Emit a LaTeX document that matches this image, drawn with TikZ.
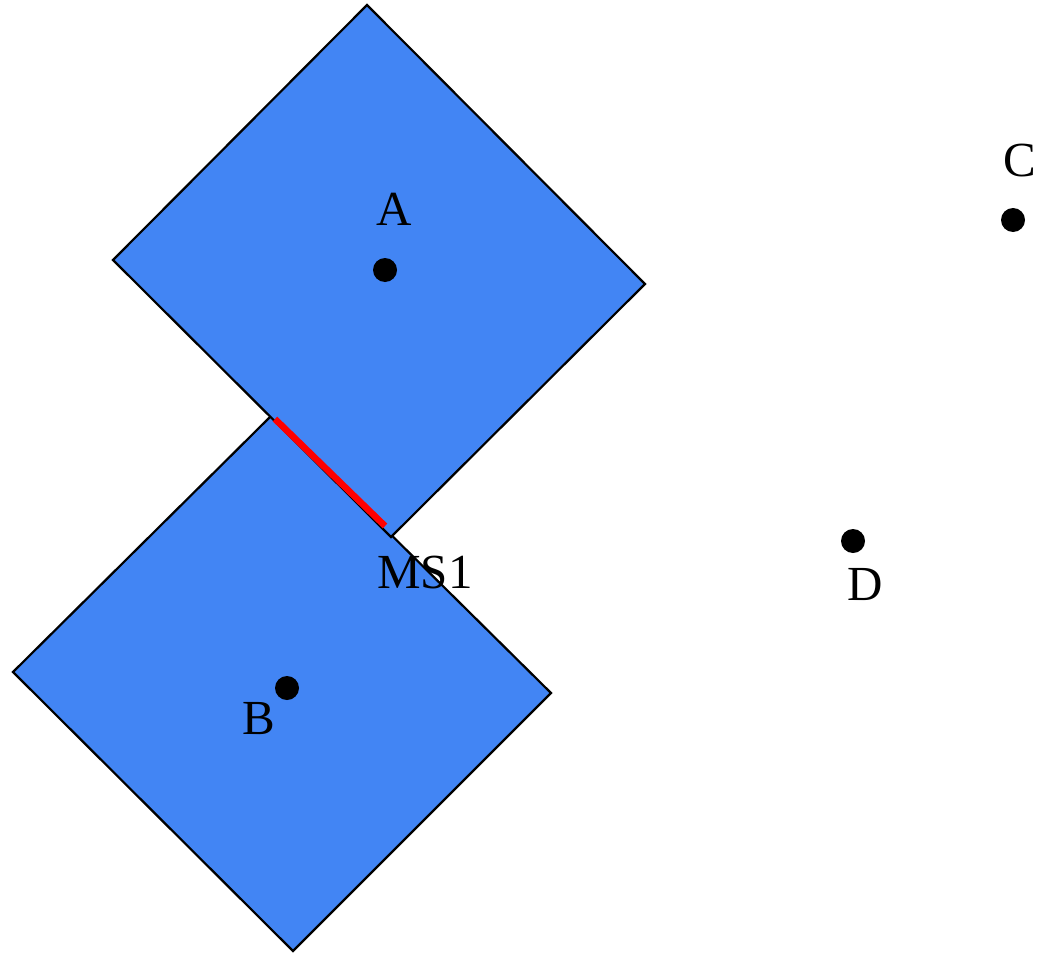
\documentclass[tikz,border=0pt]{standalone}
\usepackage{fontspec}
\setmainfont{Liberation Serif}
\definecolor{sqblue}{RGB}{66,133,244}
\tikzset{
  sq/.style={fill=sqblue, draw=black, line width=2.2pt, line join=miter},
  dot/.style={circle, fill=black, inner sep=0pt, minimum size=24pt},
  lbl/.style={font=\fontsize{49}{49}\selectfont, inner sep=0pt, anchor=base},
}
\begin{document}
\begin{tikzpicture}[x=1pt, y=-1pt]
\useasboundingbox (0,0) rectangle (1040,952);
% square B
\draw[sq] (271,416) -- (551,693) -- (293,951) -- (13,672) -- cycle;
% square A
\draw[sq] (367,5) -- (645,284) -- (391,537) -- (113,260) -- cycle;
% red segment
\draw[red, line width=6.5pt] (275,419) -- (385,526);
% points
\node[dot] (pA) at (385,270) {};
\node[dot] (pB) at (287,688) {};
\node[dot] (pC) at (1013,220) {};
\node[dot] (pD) at (853,541) {};
% labels
\node[lbl] (lA) at (394.5,225) {A};
\node[lbl] (lB) at (259,734) {B};
\node[lbl] (lC) at (1020,176) {C};
\node[lbl] (lD) at (865,600) {D};
\node[lbl] (lMS) at (425,588) {MS1};
\end{tikzpicture}
\end{document}
